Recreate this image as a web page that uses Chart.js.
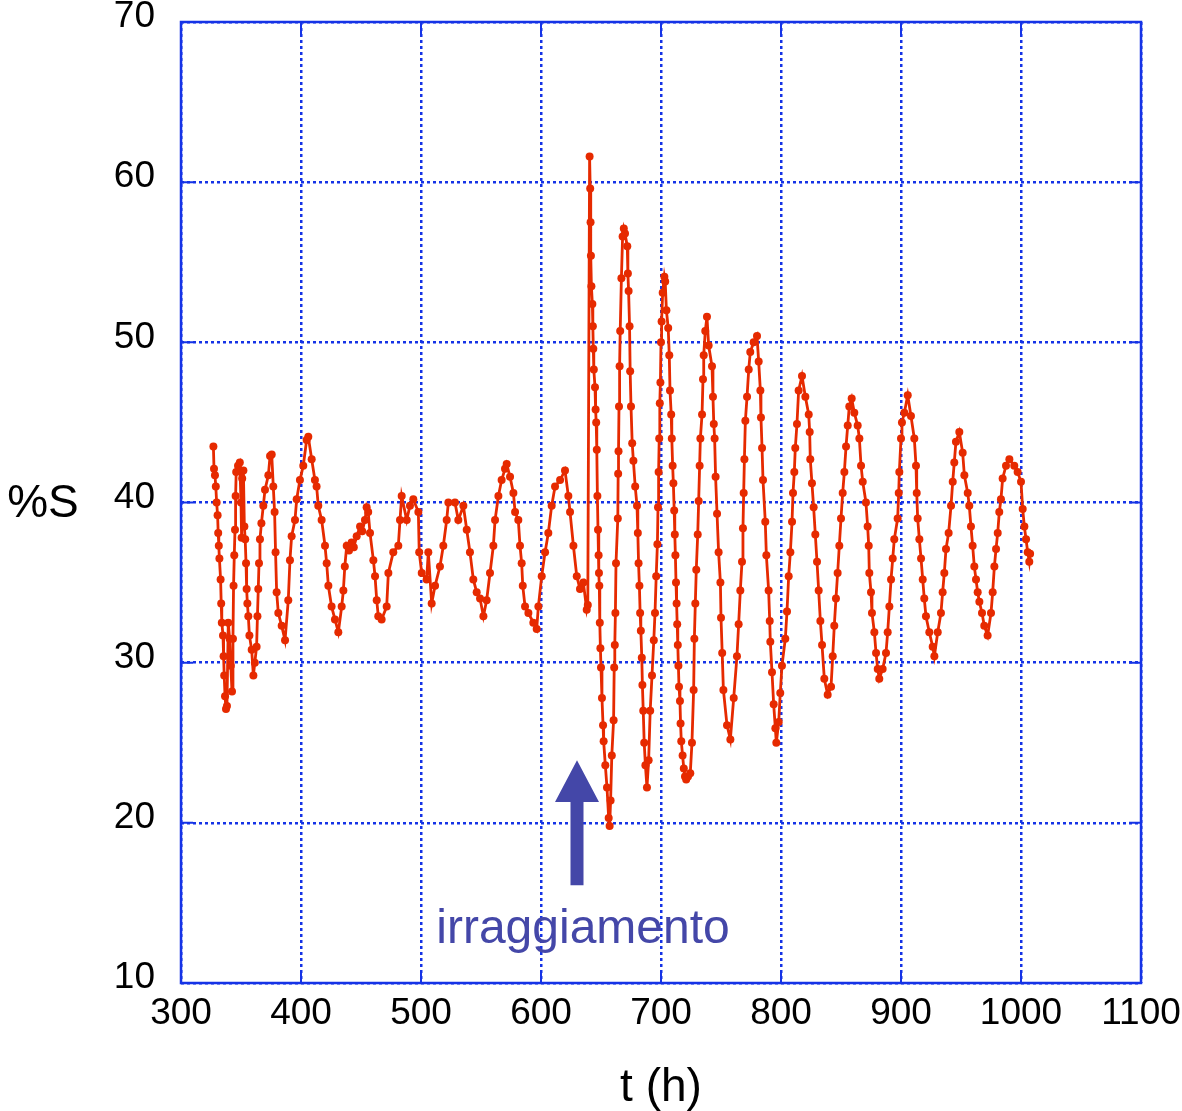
<!DOCTYPE html>
<html>
<head>
<meta charset="utf-8">
<script src="https://cdn.jsdelivr.net/npm/chart.js"></script>
<style>
  html, body { margin: 0; padding: 0; background: #fff; }
  canvas { display: block; }
</style>
</head>
<body>
<canvas id="chart" width="1182" height="1111"></canvas>
<script>
// sulfur fraction (%S) against time (h)
const hours = [
  327.0, 327.5, 328.3, 329.0, 329.7, 330.5, 331.0, 331.5, 332.0, 333.0, 333.5, 334.0, 335.0, 335.5, 336.0, 336.7,
  337.5, 338.3, 339.4, 340.5, 341.5, 342.5, 343.3, 343.8, 344.4, 345.0, 345.5, 346.0, 347.5, 349.0, 350.0, 350.5,
  351.0, 352.0, 352.8, 353.5, 354.2, 354.7, 355.3, 356.1, 357.0, 358.9, 360.3, 361.5, 363.0, 363.7, 364.4, 365.0,
  365.8, 367.0, 368.6, 370.0, 372.8, 374.2, 375.6, 376.9, 378.0, 378.8, 379.7, 381.1, 383.9, 386.7, 389.4, 390.8,
  392.2, 395.0, 396.4, 399.1, 401.9, 404.7, 406.1, 408.9, 411.6, 413.0, 414.4, 417.2, 420.0, 421.4, 422.8, 425.5,
  428.3, 431.1, 433.9, 435.3, 436.5, 438.1, 440.0, 442.2, 444.0, 446.4, 449.2, 451.0, 453.3, 454.7, 456.0, 457.5,
  460.3, 461.7, 463.1, 464.4, 467.2, 471.4, 472.8, 476.9, 481.1, 482.5, 483.9, 488.1, 490.8, 493.6, 497.8, 498.5,
  500.6, 504.7, 506.1, 508.9, 511.7, 515.8, 518.6, 521.4, 522.8, 528.3, 531.1, 535.3, 538.1, 540.8, 543.6, 546.4,
  549.2, 552.0, 554.7, 557.5, 560.3, 561.7, 564.5, 567.2, 570.0, 571.4, 574.2, 577.0, 578.4, 581.1, 582.5, 583.9,
  584.8, 586.7, 589.5, 593.6, 596.4, 597.8, 600.6, 603.4, 606.1, 608.9, 611.7, 615.9, 620.0, 622.8, 624.2, 627.0,
  629.8, 632.5, 635.3, 638.1, 639.0, 640.5, 641.0, 641.3, 641.6, 642.0, 642.8, 643.2, 643.6, 644.0, 645.0, 645.5,
  646.0, 646.5, 647.0, 647.5, 648.0, 648.3, 648.6, 649.0, 649.5, 650.0, 650.8, 651.7, 652.2, 653.6, 655.0, 656.4,
  657.2, 658.0, 659.0, 660.5, 661.0, 661.5, 662.0, 662.5, 664.0, 664.3, 664.6, 665.0, 665.5, 666.0, 667.0, 668.0,
  669.0, 670.0, 671.9, 672.4, 673.0, 673.8, 674.3, 675.0, 676.0, 677.0, 678.5, 680.0, 680.7, 681.3, 682.0, 682.6,
  683.2, 684.0, 684.5, 685.2, 686.0, 687.0, 688.3, 689.7, 691.0, 692.5, 694.0, 695.0, 696.0, 697.0, 697.5, 698.0,
  698.5, 699.0, 699.5, 700.0, 700.5, 701.4, 702.8, 703.5, 704.5, 706.0, 706.9, 707.5, 708.5, 709.0, 709.7, 710.3,
  711.0, 711.5, 712.0, 712.5, 713.0, 713.5, 714.0, 714.5, 715.0, 715.8, 716.3, 716.9, 718.0, 719.0, 720.0, 721.0,
  722.5, 724.4, 725.8, 727.2, 727.8, 728.6, 729.4, 730.6, 731.4, 732.2, 732.8, 734.2, 735.0, 735.6, 736.9, 738.3,
  739.7, 742.5, 743.3, 744.0, 744.7, 745.5, 746.7, 748.0, 749.5, 750.0, 751.0, 752.0, 755.0, 757.8, 760.6, 763.3,
  764.7, 766.1, 767.5, 768.3, 768.9, 769.5, 770.3, 771.7, 773.1, 774.4, 777.2, 780.0, 781.4, 782.8, 783.3, 784.2,
  785.0, 786.9, 787.8, 789.7, 790.6, 791.1, 792.5, 793.9, 795.3, 796.1, 798.1, 799.4, 800.8, 803.6, 805.0, 806.4,
  807.8, 809.2, 810.0, 811.1, 811.9, 813.3, 814.7, 817.5, 820.3, 823.1, 823.9, 824.4, 825.8, 827.2, 828.6, 830.0,
  831.4, 832.8, 834.2, 836.1, 838.9, 841.7, 843.1, 844.4, 845.8, 847.2, 848.6, 850.0, 851.4, 852.8, 854.2, 855.6,
  856.9, 858.9, 861.1, 863.9, 865.3, 866.7, 868.1, 870.8, 872.2, 873.1, 873.6, 875.0, 875.8, 877.8, 879.2, 880.6,
  881.9, 884.7, 887.5, 888.9, 890.3, 891.7, 893.1, 894.4, 897.2, 898.1, 898.6, 900.0, 900.8, 902.8, 905.6, 908.3,
  911.1, 912.5, 913.1, 913.9, 915.3, 916.7, 918.1, 919.4, 920.8, 923.6, 926.4, 927.8, 930.6, 933.3, 934.7, 936.1,
  937.5, 939.7, 941.7, 943.1, 944.4, 945.8, 948.6, 951.4, 952.8, 955.6, 956.9, 958.3, 959.7, 961.1, 962.5, 963.9,
  965.3, 967.5, 969.4, 972.2, 975.0, 976.4, 977.8, 979.2, 980.6, 981.9, 983.3, 984.7, 987.5, 990.3, 994.4, 997.2,
  1000.0, 1001.4, 1002.8, 1004.2, 1005.6, 1006.9, 1007.6
];
const percentS = [
  43.5, 42.1, 41.7, 41.0, 40.0, 39.2, 38.1, 37.3, 36.5, 35.2, 33.7, 32.5, 31.7, 30.4, 29.2, 27.9,
  27.1, 27.3, 32.5, 31.5, 29.8, 28.2, 31.5, 34.8, 36.7, 38.3, 40.4, 41.9, 42.3, 42.5, 40.0, 37.8,
  41.5, 42.0, 38.5, 37.7, 36.2, 34.6, 33.7, 32.9, 31.7, 30.8, 29.2, 30.0, 31.0, 32.9, 34.6, 36.2,
  37.7, 38.7, 39.8, 40.8, 41.7, 42.9, 43.0, 41.0, 39.4, 36.9, 34.4, 33.1, 32.3, 31.4, 33.9, 36.4,
  37.9, 38.9, 40.2, 41.4, 42.3, 43.9, 44.1, 42.7, 41.4, 41.0, 39.8, 38.9, 37.3, 36.2, 34.8, 33.5,
  32.7, 31.9, 33.5, 34.5, 36.0, 37.3, 37.0, 37.5, 37.2, 37.9, 38.5, 38.2, 38.9, 39.7, 39.4, 38.1,
  36.4, 35.4, 33.9, 32.9, 32.7, 33.5, 35.6, 36.9, 37.3, 38.9, 40.4, 38.9, 39.8, 40.2, 39.4, 36.9,
  35.6, 35.2, 36.9, 33.7, 34.8, 36.0, 37.3, 38.9, 40.0, 40.0, 38.9, 39.8, 38.3, 36.9, 35.2, 34.4,
  34.0, 32.9, 33.9, 35.6, 37.3, 38.9, 40.4, 41.4, 42.1, 42.4, 41.6, 40.6, 39.4, 38.9, 37.3, 36.2,
  34.8, 33.5, 33.1, 32.5, 32.1, 33.5, 35.4, 36.9, 38.1, 39.8, 41.0, 41.4, 42.0, 40.4, 39.4, 37.3,
  35.4, 34.6, 35.0, 33.3, 33.6, 61.6, 59.6, 57.5, 55.4, 53.5, 52.4, 51.0, 49.6, 48.3, 47.2, 45.8,
  45.0, 43.3, 40.4, 38.3, 36.7, 35.6, 34.8, 32.5, 30.9, 29.7, 27.8, 26.1, 25.1, 23.6, 22.2, 20.3,
  19.8, 21.4, 24.2, 26.4, 29.7, 31.1, 33.1, 36.2, 39.0, 41.8, 43.2, 46.0, 48.5, 50.7, 54.0, 56.6,
  57.1, 56.8, 56.0, 54.3, 53.2, 51.0, 48.2, 46.0, 43.7, 42.6, 41.0, 39.8, 38.1, 36.2, 34.8, 33.1,
  32.0, 30.3, 28.6, 27.0, 25.0, 23.6, 22.2, 23.9, 27.0, 29.2, 31.4, 33.1, 35.4, 37.4, 39.7, 41.9,
  44.0, 46.2, 47.5, 50.0, 51.3, 53.1, 54.1, 53.8, 52.0, 50.9, 49.2, 47.0, 45.5, 44.0, 42.3, 41.2,
  39.5, 38.0, 36.7, 35.0, 33.7, 32.4, 31.1, 29.8, 28.5, 27.6, 26.2, 25.1, 24.2, 23.4, 22.9, 22.7,
  22.9, 23.1, 25.0, 28.3, 31.5, 33.7, 35.8, 38.0, 40.1, 42.3, 44.0, 45.5, 47.7, 49.2, 50.7, 51.6,
  49.8, 48.5, 46.6, 44.9, 44.0, 41.6, 39.3, 36.9, 35.0, 32.8, 30.6, 28.3, 26.1, 25.2, 27.8, 30.4,
  32.4, 34.5, 36.3, 38.4, 40.6, 42.7, 45.1, 46.6, 48.3, 49.4, 50.0, 50.4, 48.8, 47.0, 45.3, 43.4,
  41.4, 38.8, 36.7, 34.5, 32.6, 31.3, 29.4, 27.4, 25.9, 25.0, 26.3, 28.1, 29.8, 31.5, 33.2, 35.4,
  36.9, 38.8, 40.6, 41.9, 43.4, 44.9, 47.0, 47.9, 46.6, 45.5, 44.4, 42.7, 41.2, 39.7, 38.0, 36.3,
  34.5, 32.6, 31.1, 29.0, 28.0, 28.5, 30.4, 32.3, 34.0, 35.6, 37.3, 39.0, 40.6, 41.9, 43.5, 44.8,
  46.0, 46.5, 45.6, 44.8, 44.0, 42.3, 41.3, 40.0, 38.5, 37.3, 35.6, 34.4, 33.1, 31.9, 30.6, 29.6,
  29.0, 29.6, 30.6, 31.9, 33.5, 35.2, 36.5, 37.7, 39.0, 40.6, 41.9, 44.0, 45.0, 45.6, 46.7, 45.4,
  44.0, 42.3, 40.6, 39.0, 37.7, 36.5, 35.2, 34.0, 32.9, 31.9, 31.0, 30.4, 31.9, 33.1, 34.4, 35.6,
  37.1, 38.1, 39.8, 41.3, 42.5, 43.8, 44.4, 43.1, 41.7, 40.6, 39.8, 38.5, 37.3, 36.0, 35.2, 34.4,
  33.8, 33.1, 32.3, 31.7, 33.1, 34.4, 36.0, 37.1, 38.1, 39.4, 40.2, 41.5, 42.3, 42.7, 42.3, 41.9,
  41.3, 39.6, 38.5, 37.7, 36.9, 36.3, 36.8
];

const xTicks = [300, 400, 500, 600, 700, 800, 900, 1000, 1100];
const yTicks = [10, 20, 30, 40, 50, 60, 70];

const xTitle = 't (h)';
const yTitle = '%S';
const eventHour = 630;
const eventLabel = 'irraggiamento';

const BLUE = '#1533e6';
const RED = '#e62a00';
const NOTE = '#4447a8';
const FONT = "'Liberation Sans', Arial, Helvetica, sans-serif";

// keep the plot box where the layout padding puts it
const fixBox = (size) => (s) => {
  if (s.isHorizontal()) s.height = size; else s.width = size;
  s.paddingTop = 0; s.paddingBottom = 0; s.paddingLeft = 0; s.paddingRight = 0;
};

// frame, inner tick marks, axis titles and the event arrow
const decorations = {
  id: 'decorations',
  beforeDatasetsDraw(chart) {
    const { ctx, chartArea: a, scales: { x, y } } = chart;
    ctx.save();
    ctx.strokeStyle = BLUE;
    ctx.lineWidth = 2.5;
    ctx.strokeRect(a.left, a.top, a.right - a.left, a.bottom - a.top);
    ctx.lineWidth = 2;
    ctx.beginPath();
    xTicks.forEach(v => {
      const px = x.getPixelForValue(v);
      ctx.moveTo(px, a.bottom); ctx.lineTo(px, a.bottom - 12);
      ctx.moveTo(px, a.top); ctx.lineTo(px, a.top + 12);
    });
    yTicks.forEach(v => {
      const py = y.getPixelForValue(v);
      ctx.moveTo(a.left, py); ctx.lineTo(a.left + 12, py);
      ctx.moveTo(a.right, py); ctx.lineTo(a.right - 12, py);
    });
    ctx.stroke();
    ctx.restore();
  },
  afterDraw(chart) {
    const { ctx, chartArea: a, scales: { x, y } } = chart;
    ctx.save();
    ctx.fillStyle = '#000';
    ctx.font = `46px ${FONT}`;
    ctx.textAlign = 'center';
    ctx.textBaseline = 'middle';
    ctx.fillText(xTitle, (a.left + a.right) / 2, 1088);
    ctx.fillText(yTitle, 43, (a.top + a.bottom) / 2 + 2);

    // arrow pointing up at the irradiation start
    const ax = x.getPixelForValue(eventHour);
    const tip = y.getPixelForValue(23.9);
    const base = y.getPixelForValue(21.3);
    const tail = y.getPixelForValue(16.1);
    ctx.fillStyle = NOTE;
    ctx.beginPath();
    ctx.moveTo(ax, tip);
    ctx.lineTo(ax + 22, base);
    ctx.lineTo(ax + 6.5, base);
    ctx.lineTo(ax + 6.5, tail);
    ctx.lineTo(ax - 6.5, tail);
    ctx.lineTo(ax - 6.5, base);
    ctx.lineTo(ax - 22, base);
    ctx.closePath();
    ctx.fill();

    ctx.font = `48px ${FONT}`;
    ctx.fillText(eventLabel, x.getPixelForValue(635), y.getPixelForValue(13.3));
    ctx.restore();
  }
};

new Chart(document.getElementById('chart'), {
  type: 'line',
  data: {
    datasets: [{
      data: hours.map((h, i) => ({ x: h, y: percentS[i] })),
      borderColor: RED,
      backgroundColor: RED,
      borderWidth: 2.8,
      pointRadius: 4,
      pointBorderWidth: 0,
      pointBackgroundColor: RED,
      tension: 0,
      fill: false
    }]
  },
  options: {
    responsive: false,
    animation: false,
    layout: { padding: { top: 22, right: 41, left: 0, bottom: 0 } },
    plugins: {
      legend: { display: false },
      tooltip: { enabled: false }
    },
    scales: {
      x: {
        type: 'linear',
        min: 300,
        max: 1100,
        afterBuildTicks: s => { s.ticks = xTicks.map(v => ({ value: v })); },
        afterFit: fixBox(128),
        grid: { color: BLUE, lineWidth: 2.5, drawTicks: false },
        border: { display: false, dash: [3, 3] },
        ticks: {
          color: '#000',
          padding: 9,
          maxRotation: 0,
          font: { family: FONT, size: 37 },
          callback: v => String(v)
        }
      },
      y: {
        type: 'linear',
        min: 10,
        max: 70,
        afterBuildTicks: s => { s.ticks = yTicks.map(v => ({ value: v })); },
        afterFit: fixBox(181),
        grid: { color: BLUE, lineWidth: 2.5, drawTicks: false },
        border: { display: false, dash: [3, 3] },
        ticks: {
          color: '#000',
          padding: 26,
          labelOffset: -5,
          font: { family: FONT, size: 37 },
          callback: v => String(v)
        }
      }
    }
  },
  plugins: [decorations]
});
</script>
</body>
</html>
